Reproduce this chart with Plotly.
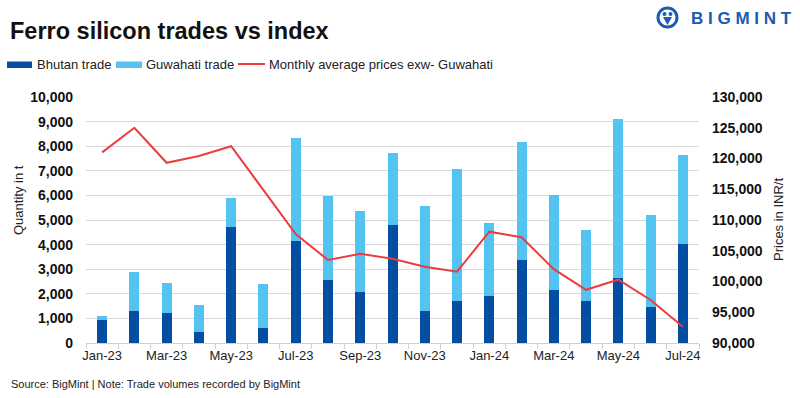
import plotly.graph_objects as go

months = ["Jan-23", "Feb-23", "Mar-23", "Apr-23", "May-23", "Jun-23", "Jul-23", "Aug-23",
          "Sep-23", "Oct-23", "Nov-23", "Dec-23", "Jan-24", "Feb-24", "Mar-24", "Apr-24",
          "May-24", "Jun-24", "Jul-24"]
bhutan = [920, 1320, 1230, 460, 4720, 620, 4150, 2570, 2080, 4800, 1310, 1720, 1920,
          3380, 2160, 1720, 2650, 1470, 4030]
total = [1110, 2890, 2450, 1550, 5890, 2400, 8330, 5970, 5360, 7720, 5570, 7070, 4880,
         8160, 6010, 4590, 9090, 5200, 7640]
guwahati = [t - b for t, b in zip(total, bhutan)]
prices = [121000, 125000, 119300, 120400, 122000, 114900, 107700, 103500, 104500, 103700,
          102400, 101600, 108100, 107200, 102000, 98650, 100300, 97000, 92650]
tick_text = [m if i % 2 == 0 else "" for i, m in enumerate(months)]
series_names = ["Bhutan trade", "Guwahati trade", "Monthly average prices exw- Guwahati"]

DARK = "#034EA2"
LIGHT = "#53C3F1"
RED = "#EE3B3B"
LOGO = "#1A5BB5"
FONT = "Liberation Sans, Arial, sans-serif"

W, H = 800, 398
L, R, T, B = 86, 101, 97, 55
PW, PH = W - L - R, H - T - B


def px(x):
    return (x - L) / PW


def py(y):
    return (H - B - y) / PH


fig = go.Figure()
fig.add_trace(go.Bar(x=months, y=bhutan, name=series_names[0], marker_color=DARK,
                     marker_line_width=0, showlegend=False))
fig.add_trace(go.Bar(x=months, y=guwahati, name=series_names[1], marker_color=LIGHT,
                     marker_line_width=0, showlegend=False))
fig.add_trace(go.Scatter(x=months, y=prices, name=series_names[2], showlegend=False,
                         mode="lines", line=dict(color=RED, width=2), yaxis="y2"))

fig.update_layout(
    width=W, height=H,
    margin=dict(l=L, r=R, t=T, b=B),
    paper_bgcolor="white", plot_bgcolor="white",
    barmode="stack", bargap=0.69,
    font=dict(family=FONT, size=13, color="#222"),
    showlegend=False,
    separators=".,",
    xaxis=dict(type="category", tickmode="array", tickvals=months, ticktext=tick_text,
               tickson="boundaries", ticks="outside", ticklen=5, tickcolor="#D0D0D0",
               showline=True, linecolor="#D0D0D0", linewidth=1, showgrid=False,
               tickangle=0, automargin=False,
               tickfont=dict(size=13, color="#222"), range=[-0.5, 18.5]),
    yaxis=dict(range=[0, 10000], tickvals=list(range(0, 10001, 1000)), tickformat=",d",
               separatethousands=True, automargin=False,
               showgrid=True, gridcolor="#D9D9D9", gridwidth=1, zeroline=False,
               showline=False, ticks="", ticklabelstandoff=12,
               tickfont=dict(size=14, color="#111", weight="bold")),
    yaxis2=dict(range=[90000, 130000], tickvals=list(range(90000, 130001, 5000)), tickformat=",d",
                separatethousands=True, automargin=False,
                overlaying="y", side="right", showgrid=False, zeroline=False, showline=False,
                ticks="", ticklabelstandoff=12,
                tickfont=dict(size=14, color="#111", weight="bold")),
)

# axis titles
fig.add_annotation(xref="paper", yref="paper", x=px(18), y=py(200), textangle=-90,
                   xanchor="center", yanchor="middle",
                   showarrow=False, text="Quantity in t", font=dict(size=13, color="#222"))
fig.add_annotation(xref="paper", yref="paper", x=px(778), y=py(220), textangle=-90,
                   xanchor="center", yanchor="middle",
                   showarrow=False, text="Prices in INR/t", font=dict(size=13, color="#222"))

# title and source
fig.add_annotation(xref="paper", yref="paper", x=px(8), y=py(31.5),
                   xanchor="left", yanchor="middle", showarrow=False,
                   text="<b>Ferro silicon trades vs index</b>",
                   font=dict(size=23.5, color="#111", family=FONT))
fig.add_annotation(xref="paper", yref="paper", x=px(9), y=py(384),
                   xanchor="left", yanchor="middle", showarrow=False,
                   text="Source: BigMint | Note: Trade volumes recorded by BigMint",
                   font=dict(size=11, color="#222", family=FONT))

# legend (drawn manually to match spacing)
leg_y = 64.5
fig.add_shape(type="rect", xref="paper", yref="paper", x0=px(7), x1=px(32),
              y0=py(68), y1=py(61.5), fillcolor=DARK, line_width=0)
fig.add_annotation(xref="paper", yref="paper", x=px(35), y=py(leg_y), xanchor="left",
                   yanchor="middle", showarrow=False, text=series_names[0],
                   font=dict(size=13, color="#222"))
fig.add_shape(type="rect", xref="paper", yref="paper", x0=px(116), x1=px(142),
              y0=py(68), y1=py(61.5), fillcolor=LIGHT, line_width=0)
fig.add_annotation(xref="paper", yref="paper", x=px(144), y=py(leg_y), xanchor="left",
                   yanchor="middle", showarrow=False, text=series_names[1],
                   font=dict(size=13, color="#222"))
fig.add_shape(type="line", xref="paper", yref="paper", x0=px(238), x1=px(265),
              y0=py(64), y1=py(64), line=dict(color=RED, width=2))
fig.add_annotation(xref="paper", yref="paper", x=px(267), y=py(leg_y), xanchor="left",
                   yanchor="middle", showarrow=False, text=series_names[2],
                   font=dict(size=13, color="#222"))

# logo
fig.add_annotation(xref="paper", yref="paper", x=px(689), y=py(18),
                   xanchor="left", yanchor="middle", showarrow=False,
                   text="<b>B I G M I N T</b>",
                   font=dict(size=17, color=LOGO, family=FONT))
fig.add_shape(type="circle", xref="paper", yref="paper",
              x0=px(658), x1=px(677), y0=py(27), y1=py(8),
              line=dict(color=LOGO, width=3), fillcolor="white")
fig.add_shape(type="circle", xref="paper", yref="paper",
              x0=px(662.5), x1=px(666.5), y0=py(16), y1=py(12),
              line_width=0, fillcolor=LOGO)
fig.add_shape(type="circle", xref="paper", yref="paper",
              x0=px(668.5), x1=px(672.5), y0=py(16), y1=py(12),
              line_width=0, fillcolor=LOGO)
fig.add_shape(type="path", xref="paper", yref="paper",
              path=f"M {px(663)} {py(17)} L {px(667.5)} {py(25)} L {px(672)} {py(17)} Z",
              line_width=0, fillcolor=LOGO)

fig.write_html("out.html", config={"displayModeBar": False},
               post_script="document.body.style.margin='0px';document.body.style.overflow='hidden';")
